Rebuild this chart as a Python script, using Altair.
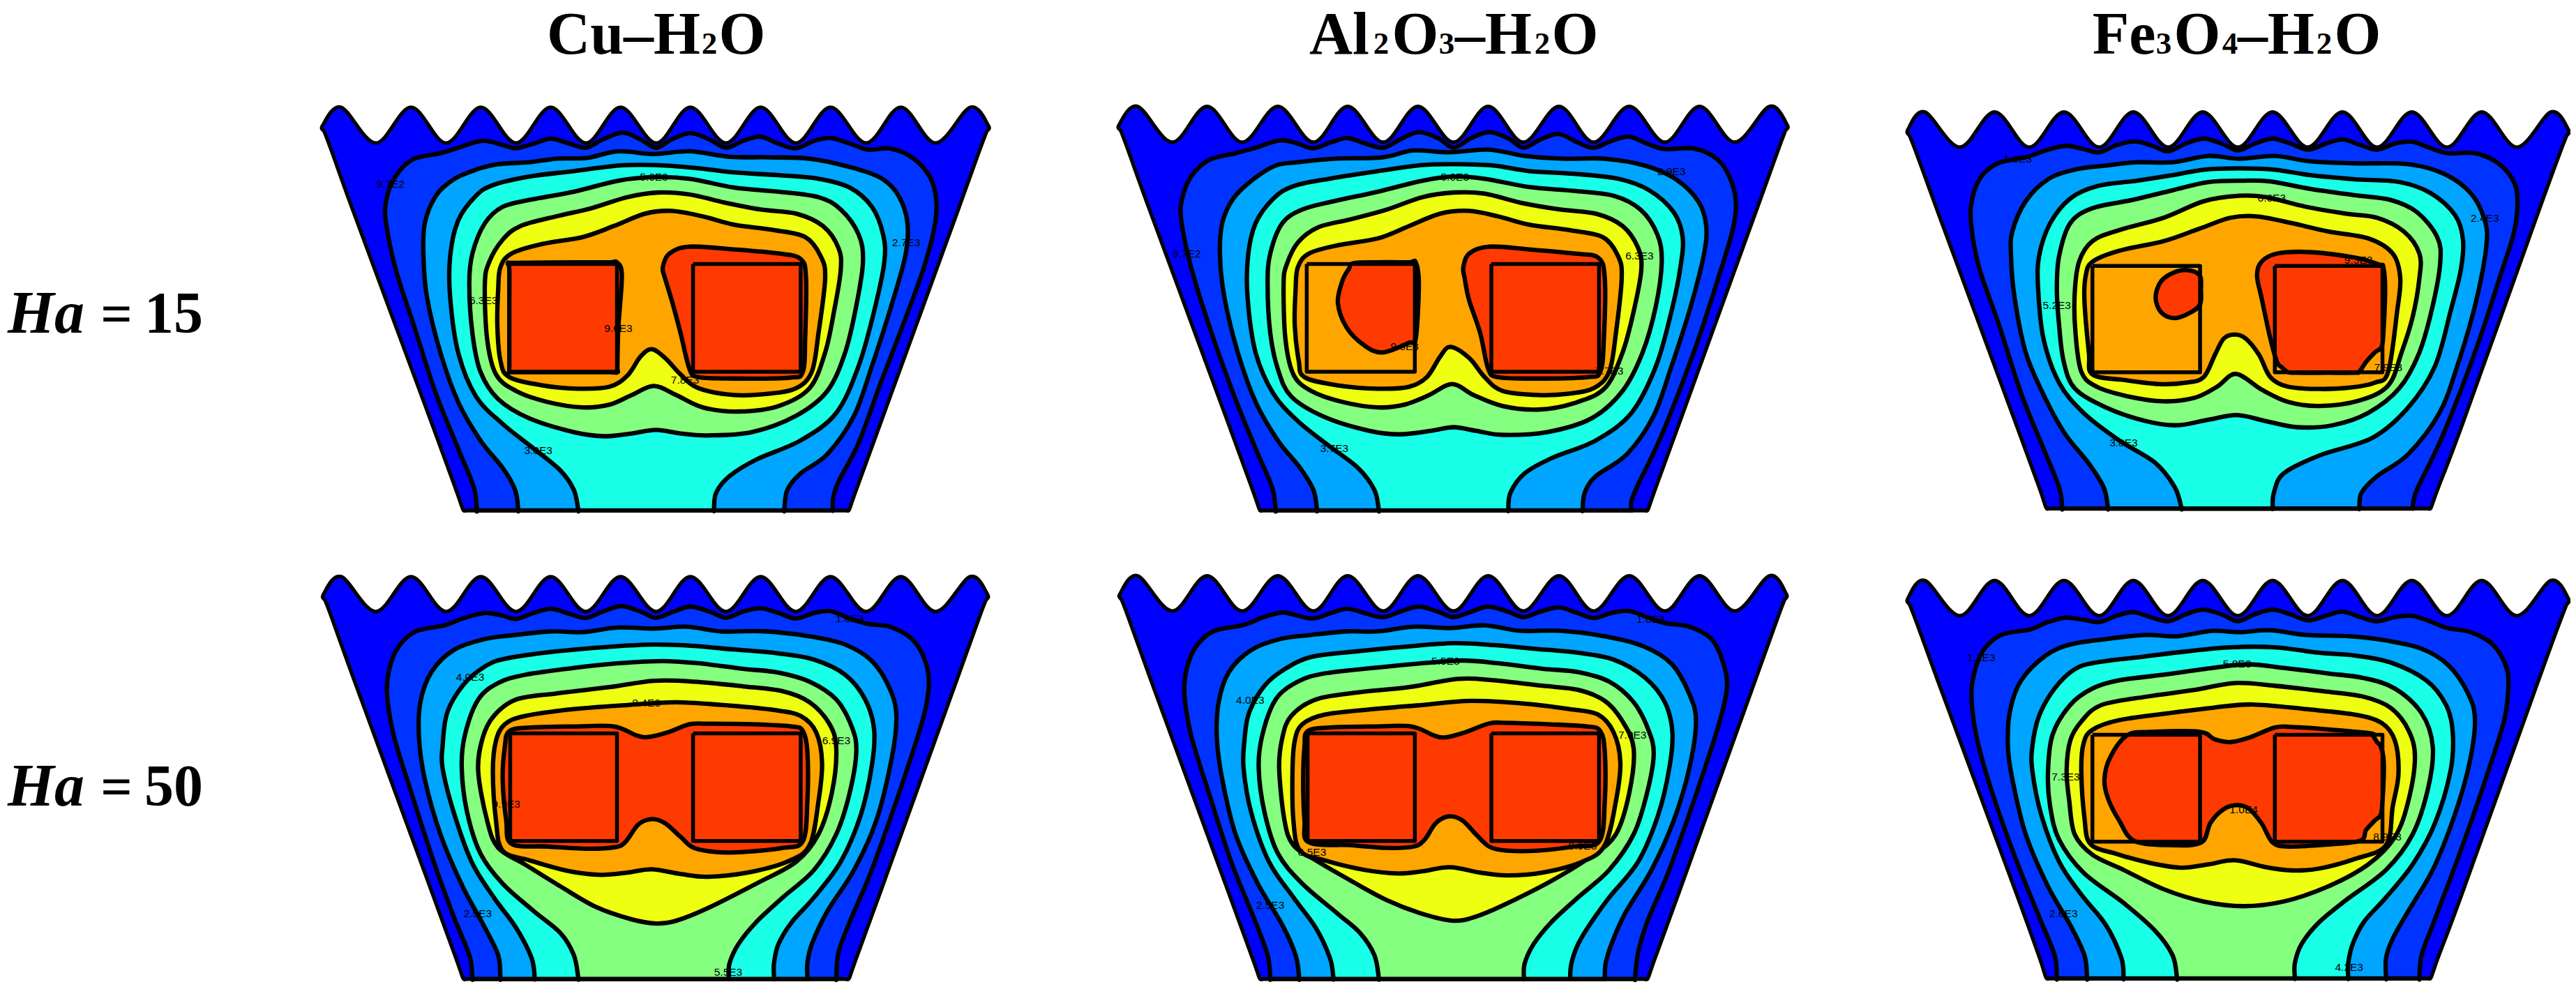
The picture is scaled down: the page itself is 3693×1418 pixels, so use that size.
import altair as alt
import pandas as pd

COLORS = ["#0000ff", "#0033ff", "#00a5ff", "#19ffe8", "#85ff80", "#eeff11", "#ffa500", "#ff3a00"]
ORIGINS = [(440, 131), (1580, 131), (2700, 131), (440, 802), (1580, 802), (2700, 802)]
# title fragments: text, centre x, is-subscript
TITLES = [
    ("Cu–H", 894, 0), ("2", 1017, 1), ("O", 1064, 0),
    ("Al", 1920, 0), ("2", 1980, 1), ("O", 2029, 0), ("3", 2074, 1), ("–H", 2141, 0), ("2", 2211, 1), ("O", 2258, 0),
    ("Fe", 3045, 0), ("3", 3102, 1), ("O", 3150, 0), ("4", 3197, 1), ("–H", 3263, 0), ("2", 3332, 1), ("O", 3380, 0),
]
ROWS = [("15", 477), ("50", 1155)]

# outer wall: left end, crests, troughs, right end, bottom y/xl/xr, side points
P1_CRESTS = [77, 234, 391, 548, 705, 862, 1020, 1177, 1335, 1491]
P1_TROUGHS = [155, 313, 470, 627, 785, 942, 1099, 1257, 1413]
P2_CRESTS = [80, 236, 395, 552, 710, 868, 1027, 1185, 1343, 1500]
P2_TROUGHS = [158, 315, 475, 632, 790, 947, 1105, 1265, 1422]
P3_CRESTS = [93, 250, 406, 562, 718, 875, 1032, 1188, 1345, 1501]
P3_TROUGHS = [172, 328, 485, 640, 797, 954, 1110, 1267, 1424]

WALLS = [
    dict(cr=P1_CRESTS, tr=P1_TROUGHS, top=58, low=188, le=(35, 125), re=(1532, 125), bot=1525, xl=352, xr=1218,
         left=[(346,1500),(334,1445),(280,1205),(105,440),(55,215),(40,150)],
         right=[(1527,150),(1512,215),(1462,440),(1290,1205),(1236,1445),(1224,1500)]),
    dict(cr=P2_CRESTS, tr=P2_TROUGHS, top=55, low=185, le=(38, 122), re=(1540, 122), bot=1525, xl=355, xr=1226,
         left=[(349,1500),(337,1445),(283,1205),(108,437),(58,212),(43,147)],
         right=[(1535,147),(1520,212),(1470,437),(1298,1205),(1244,1445),(1232,1500)]),
    dict(cr=P3_CRESTS, tr=P3_TROUGHS, top=75, low=203, le=(55, 140), re=(1540, 140), bot=1518, xl=367, xr=1230,
         left=[(361,1493),(350,1440),(297,1205),(125,450),(75,228),(60,165)],
         right=[(1535,165),(1520,228),(1470,450),(1303,1205),(1248,1440),(1236,1493)]),
    dict(cr=P1_CRESTS, tr=P1_TROUGHS, top=63, low=190, le=(37, 128), re=(1530, 128), bot=1527, xl=352, xr=1218,
         left=[(346,1502),(334,1447),(280,1207),(107,443),(57,218),(42,153)],
         right=[(1525,153),(1510,218),(1460,443),(1290,1207),(1236,1447),(1224,1502)]),
    dict(cr=P2_CRESTS, tr=P2_TROUGHS, top=60, low=188, le=(40, 126), re=(1538, 126), bot=1527, xl=355, xr=1226,
         left=[(349,1502),(337,1447),(283,1207),(110,441),(60,216),(45,151)],
         right=[(1533,151),(1518,216),(1468,441),(1298,1207),(1244,1447),(1232,1502)]),
    dict(cr=P3_CRESTS, tr=P3_TROUGHS, top=77, low=205, le=(55, 143), re=(1540, 143), bot=1525, xl=367, xr=1230,
         left=[(361,1500),(350,1445),(297,1207),(125,453),(75,231),(60,168)],
         right=[(1535,168),(1520,231),(1470,453),(1303,1207),(1248,1445),(1236,1500)]),
]

P1_L2 = [(382,1522),(375,1440),(340,1300),(290,1100),(240,850),(200,650),(178,480),(178,400),(195,320),(235,250),(300,225),(340,205),(395,180),(440,195),(470,207),(510,190),(548,172),(590,190),(627,205),(665,175),(710,150),(750,175),(785,205),(820,175),(862,152),(905,175),(942,205),(980,180),(1020,165),(1060,190),(1099,207),(1140,180),(1177,170),(1220,190),(1262,212),(1310,208),(1360,240),(1400,310),(1415,400),(1410,500),(1385,650),(1340,850),(1290,1060),(1240,1280),(1195,1420),(1183,1480),(1182,1522)]
P1_L3 = [(475,1522),(468,1450),(440,1370),(390,1270),(340,1130),(300,950),(270,750),(262,600),(265,480),(290,380),(330,320),(380,285),(430,265),(500,258),(560,245),(630,242),(700,218),(780,228),(860,218),(950,238),(1040,240),(1130,245),(1220,275),(1290,315),(1330,380),(1350,480),(1345,600),(1310,800),(1270,1000),(1230,1180),(1170,1320),(1110,1390),(1080,1450),(1073,1522)]
P1_L4 = [(610,1522),(600,1450),(570,1380),(510,1300),(440,1210),(380,1110),(340,950),(322,750),(322,600),(340,470),(380,380),(420,340),(500,310),(600,290),(700,270),(780,268),(870,278),(960,295),(1060,305),(1150,318),(1220,350),(1270,420),(1295,520),(1298,620),(1275,800),(1240,1000),(1190,1170),(1110,1270),(1010,1340),(950,1400),(920,1460),(915,1522)]
P1_L5 = [(365,700),(372,590),(400,480),(440,420),(500,395),(600,365),(700,325),(780,312),(860,318),(960,350),(1060,365),(1150,385),(1200,430),(1240,520),(1250,620),(1235,780),(1210,950),(1170,1090),(1100,1180),(1000,1240),(900,1252),(840,1245),(785,1232),(730,1245),(670,1255),(600,1240),(500,1190),(430,1120),(390,1020),(372,880)]
P1_L6 = [(400,700),(410,620),(440,540),(480,490),(560,455),(640,425),(720,385),(790,368),(860,375),(940,405),(1020,430),(1100,445),(1160,490),(1195,570),(1200,650),(1185,800),(1165,950),(1130,1080),(1060,1145),(970,1165),(890,1150),(830,1105),(780,1072),(730,1105),(680,1140),(620,1150),(540,1130),(470,1090),(425,1030),(405,900)]
P1_L7 = [(430,720),(435,640),(460,590),(530,555),(620,530),(690,490),(760,445),(820,435),(890,455),(960,485),(1050,505),(1120,530),(1155,600),(1165,680),(1150,880),(1135,1020),(1100,1080),(1040,1100),(960,1105),(880,1080),(840,1030),(805,970),(775,938),(750,965),(720,1035),(680,1075),(610,1082),(530,1070),(455,1040),(435,980),(428,850)]
P1_L8A = [(800,640),(815,590),(860,565),(960,575),(1060,590),(1110,610),(1122,680),(1120,900),(1115,1020),(1085,1042),(960,1045),(880,1040),(860,1010),(840,880),(820,760),(805,680)]
P1_L8B = [(452,625),(470,624),(600,622),(680,622),(697,622),(708,670),(700,860),(698,1000),(698,1022),(680,1022),(600,1022),(470,1022),(455,1022),(455,1000),(455,800),(455,650)]
P1_RECTS = [(455,628,697,1020),(868,628,1110,1020)]

P2_L2 = [(390,1522),(382,1440),(345,1300),(295,1100),(240,850),(200,640),(178,470),(180,390),(200,310),(240,250),(300,225),(345,205),(400,178),(440,190),(475,207),(515,185),(552,170),(592,190),(632,205),(670,175),(712,148),(755,170),(790,205),(830,170),(870,148),(912,170),(947,205),(985,175),(1027,155),(1068,185),(1105,205),(1145,180),(1185,165),(1225,190),(1265,210),(1330,208),(1385,250),(1415,330),(1425,420),(1415,520),(1385,680),(1345,880),(1300,1080),(1250,1280),(1205,1430),(1190,1490),(1190,1522)]
P2_L3 = [(483,1522),(475,1450),(445,1370),(395,1270),(345,1130),(305,950),(275,750),(265,600),(270,480),(295,390),(340,320),(390,270),(440,258),(520,245),(630,240),(700,215),(780,222),(870,212),(950,235),(1040,245),(1130,245),(1220,270),(1290,320),(1340,400),(1358,490),(1352,600),(1320,800),(1280,1000),(1240,1180),(1180,1320),(1110,1400),(1085,1460),(1080,1522)]
P2_L4 = [(622,1522),(612,1450),(575,1370),(510,1290),(440,1200),(385,1100),(345,950),(327,750),(328,600),(345,480),(385,390),(430,345),(510,318),(620,290),(720,268),(800,265),(880,270),(960,290),(1060,300),(1160,318),(1230,360),(1285,440),(1305,530),(1300,640),(1280,800),(1245,1000),(1190,1170),(1110,1270),(1010,1335),(950,1390),(918,1460),(913,1522)]
P2_L5 = [(372,700),(378,590),(405,480),(450,430),(520,400),(620,365),(720,325),(790,310),(860,318),(960,348),(1060,362),(1150,380),(1210,430),(1248,520),(1258,620),(1245,780),(1215,950),(1170,1090),(1100,1190),(1000,1240),(900,1250),(840,1235),(790,1222),(740,1235),(670,1248),(600,1235),(500,1185),(425,1110),(395,1010),(378,880)]
P2_L6 = [(408,700),(415,630),(440,550),(485,495),(560,465),(640,430),(720,385),(790,368),(860,372),(940,405),(1030,430),(1110,445),(1170,490),(1205,570),(1212,650),(1195,800),(1170,950),(1130,1080),(1060,1135),(980,1158),(900,1145),(835,1105),(787,1065),(735,1105),(680,1140),(620,1150),(540,1130),(470,1090),(430,1030),(412,900)]
P2_L7 = [(435,720),(440,640),(465,590),(530,560),(620,535),(690,490),(760,445),(825,435),(890,455),(960,485),(1050,505),(1125,530),(1160,600),(1168,680),(1155,880),(1140,1020),(1105,1080),(1050,1100),(980,1105),(900,1090),(860,1040),(825,970),(783,930),(760,965),(730,1040),(690,1075),(620,1082),(530,1070),(455,1040),(442,980),(433,850)]
P2_L8A = [(812,640),(825,590),(870,565),(960,575),(1060,590),(1115,605),(1130,680),(1128,900),(1120,1020),(1090,1040),(970,1045),(890,1040),(868,1010),(850,880),(825,760),(815,680)]
P2_L8B = [(565,625),(620,622),(690,622),(705,622),(712,700),(705,900),(690,915),(630,950),(590,925),(550,860),(530,770),(540,690),(555,645)]
P2_RECTS = [(460,628,703,1020),(875,628,1117,1020)]

P3_L2 = [(402,1515),(395,1440),(360,1300),(310,1100),(260,850),(215,640),(197,480),(200,390),(220,310),(260,260),(320,240),(365,215),(410,198),(450,210),(485,222),(525,195),(565,182),(605,198),(640,218),(680,190),(720,172),(760,190),(797,215),(835,190),(875,172),(915,190),(955,212),(995,190),(1032,175),(1072,195),(1110,212),(1150,190),(1188,183),(1228,205),(1268,225),(1330,225),(1385,265),(1420,340),(1425,430),(1415,530),(1385,680),(1345,880),(1300,1080),(1250,1280),(1205,1430),(1193,1480),(1190,1515)]
P3_L3 = [(505,1515),(495,1440),(460,1350),(410,1250),(365,1120),(320,950),(295,750),(287,600),(290,510),(320,400),(370,320),(430,285),(500,270),(570,258),(650,258),(730,235),(800,245),(880,235),(960,255),(1060,262),(1180,265),(1260,300),(1320,370),(1352,470),(1355,570),(1330,780),(1290,1000),(1250,1170),(1180,1320),(1110,1400),(1075,1460),(1070,1515)]
P3_L4 = [(670,1515),(655,1440),(610,1350),(530,1270),(450,1170),(395,1060),(360,900),(348,720),(350,600),(375,480),(420,390),(480,345),(570,325),(650,305),(720,285),(800,280),(880,285),(960,305),(1060,320),(1160,330),(1230,370),(1285,450),(1303,540),(1298,650),(1275,800),(1240,1000),(1180,1150),(1100,1260),(980,1325),(900,1390),(878,1460),(875,1515)]
P3_L5 = [(390,720),(395,600),(420,480),(470,425),(560,395),(650,360),(730,330),(810,325),(870,328),(960,355),(1060,378),(1140,395),(1200,440),(1245,530),(1252,620),(1235,780),(1205,950),(1160,1080),(1090,1170),(1010,1215),(930,1222),(860,1200),(795,1178),(730,1195),(660,1215),(590,1200),(500,1150),(430,1080),(405,980),(395,850)]
P3_L6 = [(430,740),(440,620),(470,545),(530,505),(630,460),(720,400),(800,380),(860,385),(950,420),(1040,445),(1110,460),(1170,510),(1205,590),(1205,680),(1190,820),(1165,950),(1135,1070),(1070,1125),(980,1145),(910,1130),(850,1085),(793,1028),(750,1075),(700,1115),(630,1128),(550,1110),(480,1075),(445,1020),(432,880)]
P3_L7 = [(452,760),(455,670),(470,620),(530,580),(630,545),(710,500),(780,460),(840,455),(920,480),(1000,510),(1090,535),(1145,590),(1162,680),(1155,800),(1135,1020),(1105,1060),(1050,1078),(980,1083),(910,1075),(870,1040),(845,960),(815,900),(790,885),(765,900),(745,960),(720,1040),(680,1060),(620,1065),(540,1050),(470,1030),(462,950)]
P3_L8A = [(840,670),(850,620),(885,590),(960,585),(1060,605),(1115,630),(1124,640),(1128,720),(1124,880),(1120,930),(1105,950),(1085,985),(1070,1020),(1060,1024),(1000,1024),(930,1024),(910,1022),(905,1018),(895,1003),(885,985),(870,900),(850,750)]
P3_L8B = [(612,750),(625,690),(660,655),(690,652),(712,672),(714,720),(712,775),(690,805),(655,825),(625,805)]
P3_RECTS = [(470,635,712,1022),(880,635,1122,1022)]

P4_L2 = [(372,1522),(365,1440),(330,1300),(285,1100),(235,850),(195,640),(180,490),(185,400),(205,320),(245,262),(310,240),(350,215),(400,195),(440,205),(470,217),(510,195),(548,180),(590,198),(627,213),(665,190),(707,170),(750,190),(785,212),(825,190),(862,172),(905,190),(942,212),(980,190),(1020,178),(1060,195),(1099,215),(1140,195),(1177,188),(1220,215),(1262,235),(1310,245),(1360,290),(1390,370),(1398,460),(1385,580),(1350,760),(1310,950),(1265,1150),(1220,1320),(1195,1430),(1190,1522)]
P4_L3 = [(435,1522),(430,1440),(400,1340),(350,1190),(300,1000),(265,800),(252,650),(255,520),(280,410),(330,330),(400,290),(470,275),(550,262),(620,265),(700,248),(780,252),(855,245),(930,262),(1030,262),(1130,280),(1210,310),(1270,370),(1310,470),(1325,570),(1315,720),(1280,950),(1230,1130),(1170,1280),(1135,1400),(1125,1470),(1125,1522)]
P4_L4 = [(512,1522),(505,1450),(470,1340),(420,1230),(370,1100),(330,920),(305,760),(305,680),(315,560),(350,460),(400,390),(450,360),(560,335),(680,318),(780,310),(870,315),(960,328),(1060,342),(1140,365),(1210,420),(1255,510),(1275,620),(1270,750),(1245,930),(1200,1100),(1140,1230),(1090,1320),(1060,1400),(1050,1470),(1050,1522)]
P4_L5 = [(610,1522),(600,1440),(570,1360),(510,1280),(440,1180),(390,1070),(360,920),(348,760),(355,640),(385,510),(430,450),(490,420),(600,395),(700,378),(800,370),(880,378),(980,398),(1060,412),(1130,445),(1190,510),(1225,610),(1235,700),(1220,850),(1190,1000),(1140,1130),(1070,1230),(1010,1320),(970,1400),(950,1470),(948,1522)]
P4_L6 = [(385,770),(395,650),(420,570),(470,510),(560,488),(680,465),(780,442),(870,445),(980,462),(1070,480),(1130,520),(1175,600),(1190,690),(1180,850),(1150,1000),(1100,1100),(1010,1180),(900,1270),(830,1315),(785,1325),(730,1310),(650,1265),(570,1190),(490,1110),(430,1050),(405,950)]
P4_L7 = [(418,770),(425,660),(445,600),(490,570),(600,545),(720,530),(830,520),(950,532),(1050,548),(1110,570),(1145,630),(1158,740),(1150,880),(1130,1040),(1080,1100),(990,1140),(900,1155),(840,1145),(775,1128),(720,1140),(660,1148),(590,1135),(500,1095),(440,1060),(425,950)]
P4_L8A = [(440,800),(445,680),(455,625),(500,612),(600,608),(690,608),(740,640),(765,647),(810,630),(860,600),(900,598),(1000,600),(1090,608),(1115,625),(1125,700),(1125,880),(1115,1025),(1070,1050),(980,1065),(920,1065),(870,1050),(840,1010),(805,960),(775,945),(745,965),(715,1030),(690,1048),(630,1053),(540,1045),(460,1035),(448,950)]
P4_RECTS = [(457,633,697,1025),(868,633,1110,1025)]

P5_L2 = [(378,1522),(372,1440),(340,1300),(290,1100),(240,850),(200,640),(185,490),(190,400),(210,320),(250,262),(320,238),(360,212),(405,193),(440,205),(475,215),(515,195),(552,180),(595,198),(632,210),(670,190),(712,172),(755,190),(790,210),(830,190),(868,172),(912,190),(947,210),(985,190),(1027,175),(1068,195),(1105,213),(1145,195),(1185,188),(1225,210),(1265,232),(1320,245),(1370,290),(1395,370),(1405,460),(1390,580),(1355,760),(1315,950),(1270,1150),(1225,1320),(1205,1430),(1198,1522)]
P5_L3 = [(443,1522),(435,1440),(405,1330),(350,1180),(300,1000),(270,800),(258,650),(262,520),(285,410),(335,330),(400,290),(470,275),(550,262),(620,262),(700,245),(780,250),(860,240),(940,260),(1030,260),(1130,280),(1215,315),(1280,380),(1320,490),(1335,590),(1320,760),(1285,950),(1235,1130),(1175,1290),(1145,1400),(1132,1470),(1130,1522)]
P5_L4 = [(520,1522),(512,1450),(480,1340),(430,1230),(375,1100),(335,920),(318,760),(320,660),(330,560),(365,460),(410,400),(470,355),(570,335),(680,318),(790,305),(880,312),(970,325),(1070,340),(1150,365),(1220,430),(1265,520),(1282,630),(1275,760),(1250,930),(1205,1100),(1140,1230),(1100,1320),(1070,1400),(1055,1470),(1052,1522)]
P5_L5 = [(622,1522),(612,1440),(580,1360),(530,1290),(450,1180),(395,1070),(365,920),(352,760),(360,640),(390,510),(440,445),(500,415),(610,395),(720,378),(810,368),(890,378),(990,398),(1070,410),(1140,445),(1195,520),(1228,620),(1240,710),(1225,850),(1195,1000),(1140,1130),(1070,1230),(1010,1320),(970,1400),(950,1470),(948,1522)]
P5_L6 = [(398,760),(405,650),(425,570),(480,510),(570,485),(690,465),(800,435),(880,440),(990,460),(1070,475),(1130,515),(1170,590),(1195,690),(1185,850),(1155,1000),(1100,1080),(1010,1170),(900,1260),(840,1300),(790,1315),(720,1290),(640,1240),(560,1170),(480,1095),(430,1040),(410,950)]
P5_L7 = [(428,770),(433,660),(450,600),(500,565),(610,545),(720,530),(830,515),(950,525),(1050,545),(1115,565),(1150,630),(1165,740),(1155,880),(1130,1040),(1080,1100),(990,1140),(910,1150),(850,1140),(782,1120),(720,1135),(665,1143),(590,1130),(500,1095),(445,1060),(430,950)]
P5_L8A = [(452,800),(455,680),(462,625),(510,612),(610,608),(695,608),(745,640),(770,648),(815,630),(870,597),(910,595),(1000,600),(1090,608),(1120,625),(1130,700),(1130,880),(1118,1025),(1060,1045),(980,1060),(910,1060),(870,1045),(840,1000),(810,950),(780,935),(750,960),(725,1020),(700,1045),(640,1050),(560,1040),(465,1030),(455,950)]
P5_RECTS = [(462,633,703,1025),(875,633,1117,1025)]

P6_L2 = [(390,1522),(385,1440),(350,1300),(300,1100),(245,850),(210,650),(198,500),(205,410),(225,330),(265,275),(330,255),(370,228),(410,212),(450,220),(485,228),(525,205),(562,192),(600,210),(640,225),(680,200),(718,183),(760,200),(797,225),(835,200),(875,183),(915,200),(955,222),(995,205),(1032,190),(1072,210),(1110,225),(1150,210),(1188,205),(1228,225),(1268,250),(1320,265),(1370,310),(1400,390),(1405,470),(1395,590),(1360,770),(1320,960),(1275,1160),(1235,1330),(1210,1440),(1205,1522)]
P6_L3 = [(458,1522),(452,1440),(420,1330),(370,1190),(320,1000),(290,800),(280,680),(285,550),(310,440),(365,350),(420,310),(500,290),(590,275),(660,280),(740,260),(800,265),(870,258),(950,275),(1050,280),(1130,295),(1210,325),(1270,385),(1315,490),(1330,590),(1315,760),(1280,950),(1235,1130),(1180,1280),(1145,1380),(1130,1450),(1130,1522)]
P6_L4 = [(540,1522),(535,1450),(500,1330),(445,1220),(395,1100),(355,930),(335,770),(335,680),(350,570),(385,470),(430,400),(480,375),(580,355),(680,335),(780,320),(880,320),(980,340),(1060,350),(1140,375),(1220,440),(1265,530),(1280,630),(1275,770),(1240,960),(1190,1110),(1130,1230),(1080,1320),(1055,1400),(1045,1470),(1045,1522)]
P6_L5 = [(660,1522),(650,1440),(610,1350),(540,1250),(450,1140),(395,1020),(375,900),(370,780),(380,640),(420,530),(470,470),(530,440),(630,420),(740,395),(820,382),(900,395),(1000,415),(1080,432),(1150,470),(1210,560),(1235,680),(1225,830),(1190,1000),(1130,1130),(1040,1240),(980,1320),(940,1400),(925,1470),(925,1522)]
P6_L6 = [(412,770),(420,660),(445,590),(490,530),(590,500),(700,475),(790,450),(880,460),(990,480),(1080,500),(1140,540),(1180,620),(1195,720),(1180,880),(1150,1010),(1090,1110),(1000,1190),(900,1245),(810,1262),(720,1245),(630,1200),(540,1130),(470,1075),(430,1000),(418,880)]
P6_L7 = [(445,770),(450,670),(470,620),(530,585),(640,560),(740,540),(830,528),(950,545),(1060,565),(1120,595),(1150,660),(1158,780),(1145,900),(1130,1040),(1060,1090),(980,1125),(920,1132),(860,1120),(790,1095),(730,1110),(670,1122),(600,1105),(520,1070),(465,1035),(452,940)]
P6_L8A = [(497,800),(510,720),(548,640),(600,628),(710,627),(745,655),(780,665),(820,650),(880,612),(920,610),(1010,620),(1095,633),(1102,645),(1110,665),(1118,680),(1124,720),(1125,780),(1122,880),(1118,930),(1105,950),(1085,985),(1070,1025),(980,1040),(910,1045),(875,1030),(850,960),(820,905),(788,895),(760,915),(735,960),(715,1030),(650,1040),(565,1025),(530,950),(505,870)]
P6_RECTS = [(470,638,712,1027),(880,638,1122,1027)]

CONTOURS = [
    ([P1_L2, P1_L3, P1_L4], [P1_L5, P1_L6, P1_L7], [P1_L8A, P1_L8B], P1_RECTS),
    ([P2_L2, P2_L3, P2_L4], [P2_L5, P2_L6, P2_L7], [P2_L8A, P2_L8B], P2_RECTS),
    ([P3_L2, P3_L3, P3_L4], [P3_L5, P3_L6, P3_L7], [P3_L8A, P3_L8B], P3_RECTS),
    ([P4_L2, P4_L3, P4_L4, P4_L5], [P4_L6, P4_L7], [P4_L8A], P4_RECTS),
    ([P5_L2, P5_L3, P5_L4, P5_L5], [P5_L6, P5_L7], [P5_L8A], P5_RECTS),
    ([P6_L2, P6_L3, P6_L4, P6_L5], [P6_L6, P6_L7], [P6_L8A], P6_RECTS),
]

LABELS = [
    [("9.7E2",188,337),("2.7E3",1347,552),("5.0E3",780,313),("6.3E3",397,762),("9.6E3",700,862),("7.8E3",850,1052),("3.8E3",520,1307)],
    [("9.7E2",190,592),("2.9E3",1280,292),("5.0E3",793,312),("6.3E3",1208,598),("9.6E3",680,928),("7.7E3",1140,1018),("3.7E3",522,1300)],
    [("1.0E3",302,247),("2.4E3",1352,461),("6.6E3",873,388),("5.2E3",390,780),("9.3E3",1068,613),("7.9E3",1135,1005),("3.8E3",540,1280)],
    [("1.0E3",1220,215),("4.0E3",367,430),("8.4E3",763,522),("6.9E3",1190,660),("9.9E3",448,892),("2.5E3",384,1290),("5.5E3",947,1503)],
    [("1.0E3",1233,218),("4.0E3",333,513),("5.5E3",772,370),("7.0E3",1192,640),("8.5E3",472,1066),("9.9E3",1080,1043),("2.5E3",378,1260)],
    [("1.1E3",220,358),("5.8E3",795,381),("7.3E3",410,793),("1.0E4",810,910),("8.9E3",1133,1010),("2.6E3",405,1290),("4.2E3",1047,1484)],
]

SX, SY = 1.568, 2.538
LINE = 6.3
EDGE = 5.2
x_enc = alt.X("x:Q", scale=alt.Scale(domain=[8, 3685], nice=False, zero=False), axis=None)
y_enc = alt.Y("y:Q", scale=alt.Scale(domain=[1410, 8], nice=False, zero=False), axis=None)


def table(points, origin):
    ox, oy = origin
    return pd.DataFrame(
        {"x": [ox + p[0] / SX for p in points], "y": [oy + p[1] / SY for p in points], "i": range(len(points))}
    )


def bottom_tail(xr, xl, y):
    span = xr - xl
    return [(xr - span * f, y) for f in (0, 0.01, 0.04, 0.12, 0.3, 0.5, 0.7, 0.88, 0.96, 0.99, 1)]


def poly(points, origin, fill=None, width=LINE, interp="cardinal-closed"):
    kw = dict(stroke="black", strokeWidth=width, strokeJoin="round", interpolate=interp, clip=False)
    if interp == "cardinal-closed":
        kw["tension"] = 0
    kw["fill"] = fill if fill else "transparent"
    return alt.Chart(table(points, origin)).mark_line(**kw).encode(x=x_enc, y=y_enc, order=alt.Order("i:Q"))


layers = []
for p, origin in enumerate(ORIGINS):
    w = WALLS[p]
    wave = []
    for k, c in enumerate(w["cr"]):
        wave.append((c, w["top"]))
        if k < len(w["tr"]):
            wave.append((w["tr"][k], w["low"]))
    outline = [w["le"]] + wave + [w["re"]] + w["right"] + bottom_tail(w["xr"], w["xl"], w["bot"]) + w["left"]
    layers.append(poly(outline, origin, COLORS[0], width=EDGE))
    opened, closed, red, rects = CONTOURS[p]
    level = 1
    for c in opened:
        pts = c + bottom_tail(c[-1][0], c[0][0], w["bot"])
        layers.append(poly(pts, origin, COLORS[level]))
        level += 1
    for c in closed:
        layers.append(poly(c, origin, COLORS[level]))
        level += 1
    for c in red:
        layers.append(poly(c, origin, COLORS[7]))
    for (a, b, c, d) in rects:
        layers.append(poly([(a, b), (c, b), (c, d), (a, d), (a, b)], origin, None, width=5.5, interp="linear"))
    layers.append(poly([(w["xl"], w["bot"]), (w["xr"], w["bot"])], origin, None, width=EDGE, interp="linear"))
    rows = [{"t": t, "x": origin[0] + a / SX, "y": origin[1] + b / SY} for t, a, b in LABELS[p]]
    layers.append(
        alt.Chart(pd.DataFrame(rows)).mark_text(font="Liberation Sans", fontSize=15.5, color="black", align="center", baseline="middle")
        .encode(x=x_enc, y=y_enc, text="t:N")
    )

SERIF = dict(font="Liberation Serif", fontWeight="bold", color="black", align="center", baseline="alphabetic")
main_df = pd.DataFrame([{"t": t, "x": x, "y": 77} for t, x, s in TITLES if not s])
sub_df = pd.DataFrame([{"t": t, "x": x, "y": 77} for t, x, s in TITLES if s])
ha_df = pd.DataFrame([{"t": "Ha", "x": 66, "y": y} for _, y in ROWS])
eq_df = pd.DataFrame([{"t": "=", "x": 167, "y": y} for _, y in ROWS])
num_df = pd.DataFrame([{"t": v, "x": 249, "y": y} for v, y in ROWS])
layers.append(alt.Chart(main_df).mark_text(fontSize=86, **SERIF).encode(x=x_enc, y=y_enc, text="t:N"))
layers.append(alt.Chart(sub_df).mark_text(fontSize=45, **SERIF).encode(x=x_enc, y=y_enc, text="t:N"))
layers.append(alt.Chart(ha_df).mark_text(fontSize=86, fontStyle="italic", **SERIF).encode(x=x_enc, y=y_enc, text="t:N"))
layers.append(alt.Chart(eq_df).mark_text(fontSize=80, **SERIF).encode(x=x_enc, y=y_enc, text="t:N"))
layers.append(alt.Chart(num_df).mark_text(fontSize=84, **SERIF).encode(x=x_enc, y=y_enc, text="t:N"))

chart = (
    alt.layer(*layers)
    .resolve_scale(x="shared", y="shared")
    .properties(width=3677, height=1402, padding=0, autosize=alt.AutoSizeParams(type="none"), background="white")
    .configure_view(stroke=None)
)
chart.save("out.html", embed_options={"renderer": "svg", "actions": False})
